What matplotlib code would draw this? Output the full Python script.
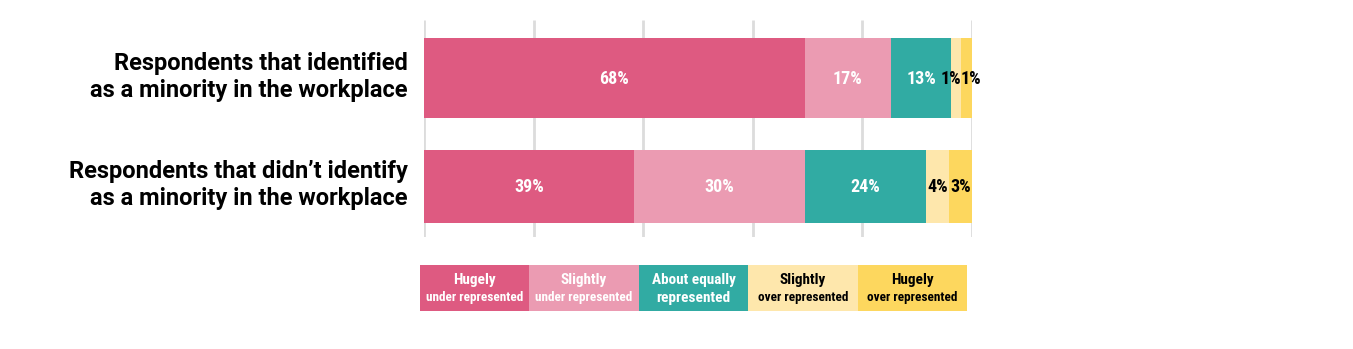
import matplotlib.pyplot as plt
from matplotlib.patches import Rectangle

# data
groups = ["Respondents that identified\nas a minority in the workplace",
          "Respondents that didn\u2019t identify\nas a minority in the workplace"]
categories = ["Hugely under represented", "Slightly under represented",
              "About equally represented", "Slightly over represented",
              "Hugely over represented"]
shares_minority = [69.5, 15.7, 11.0, 1.8, 2.0]
shares_non_minority = [38.4, 31.1, 22.1, 4.2, 4.2]
labels_minority = ["68%", "17%", "13%", "1%", "1%"]
labels_non_minority = ["39%", "30%", "24%", "4%", "3%"]
legend_top = ["Hugely", "Slightly", "About equally", "Slightly", "Hugely"]
legend_bottom = ["under represented", "under represented", "represented",
                 "over represented", "over represented"]

colors = ["#de5a81", "#eb9bb2", "#31aba3", "#fee7ac", "#fdd75e"]
text_colors = ["white", "white", "white", "black", "black"]

cond = ["Roboto Condensed", "Barlow Condensed", "DejaVu Sans"]

fig = plt.figure(figsize=(13.53, 3.49), dpi=100)
W, H = 1353, 349

# main bars axes, in pixel coordinates of the figure
x0, x1, y0, y1 = 424, 972, 20, 237
ax = fig.add_axes([x0 / W, 1 - y1 / H, (x1 - x0) / W, (y1 - y0) / H])
ax.set_xlim(0, 100)
ax.set_ylim(y1, y0)
ax.axis("off")

for gx in range(0, 101, 20):
    ax.plot([gx, gx], [y1, y0], color="#dcdcdc", lw=2, zorder=0, solid_capstyle="butt")

rows = [(shares_minority, labels_minority, 78, 80),
        (shares_non_minority, labels_non_minority, 186, 73)]
for shares, labels, yc, h in rows:
    lefts = [sum(shares[:i]) for i in range(len(shares))]
    for i, (v, lab, c, tc) in enumerate(zip(shares, labels, colors, text_colors)):
        left = lefts[i]
        ax.barh(yc, v, left=left, height=h, color=c, edgecolor="none", zorder=2)
        # two tiny segments side by side: push labels apart from their shared edge
        xt, ha = left + v / 2, "center"
        if v < 3 and i == 3 and shares[4] < 3:
            xt, ha = left + v, "right"
        elif v < 3 and i == 4 and shares[3] < 3:
            xt, ha = left, "left"
        ax.text(xt, yc + 1, lab, ha=ha, va="center", color=tc,
                fontsize=13, fontweight="bold", family=cond, zorder=3)

for g, (_, _, yc, _) in zip(groups, rows):
    fig.text((x0 - 16) / W, 1 - (yc - 1) / H, g, ha="right", va="center",
             fontsize=17, fontweight="bold", family="Roboto", linespacing=1.2)

# legend strip
lx0, lx1, ly0, ly1 = 420, 967, 265, 311
lax = fig.add_axes([lx0 / W, 1 - ly1 / H, (lx1 - lx0) / W, (ly1 - ly0) / H])
lax.set_xlim(0, 5)
lax.set_ylim(0, 1)
lax.axis("off")
for i, (t, b, c, tc) in enumerate(zip(legend_top, legend_bottom, colors, text_colors)):
    lax.add_patch(Rectangle((i, 0), 1, 1, color=c, lw=0))
    lax.text(i + 0.5, 0.68, t, ha="center", va="center", color=tc,
             fontsize=11, fontweight="bold", family=cond)
    # one-line category names keep the bigger size on their second line
    small = b.count(" ") > 0
    lax.text(i + 0.5, 0.29, b, ha="center", va="center", color=tc,
             fontsize=9.5 if small else 11, fontweight="bold", family=cond)

fig.savefig("out.png", dpi=100)
